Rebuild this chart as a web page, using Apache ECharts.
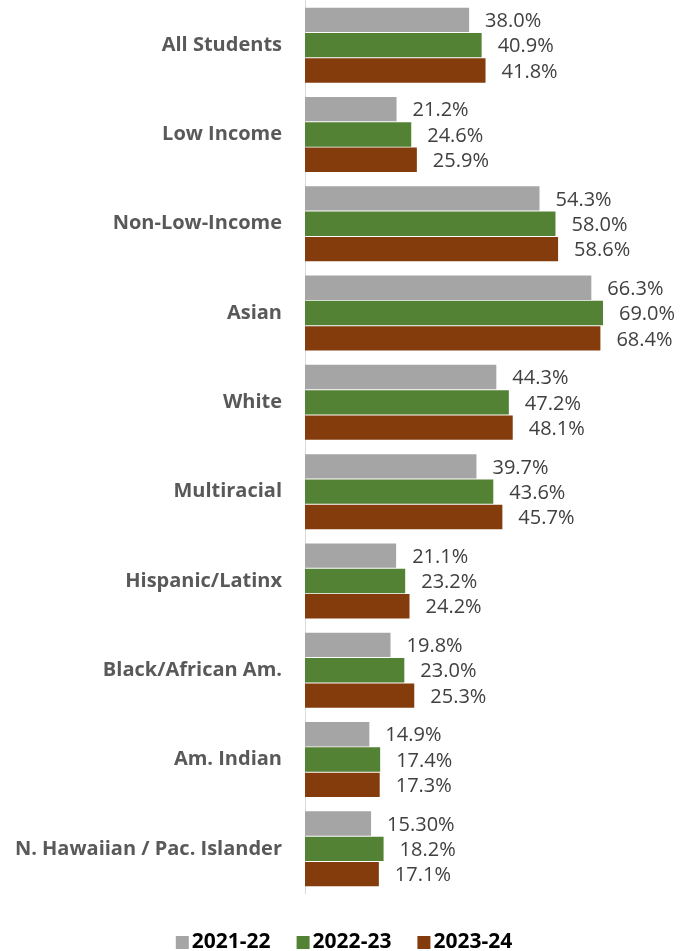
<!DOCTYPE html>
<html>
<head>
<meta charset="utf-8">
<script src="https://cdn.jsdelivr.net/npm/echarts@6/dist/echarts.min.js"></script>
<style>
html,body{margin:0;padding:0;background:#fff;}
#chart{width:688px;height:951px;}
</style>
</head>
<body>
<div id="chart"></div>
<script>
const categories = ['All Students','Low Income','Non-Low-Income','Asian','White','Multiracial','Hispanic/Latinx','Black/African Am.','Am. Indian','N. Hawaiian / Pac. Islander'];
const seriesNames = ['2021-22','2022-23','2023-24'];
const v2122 = ['38.0','21.2','54.3','66.3','44.3','39.7','21.1','19.8','14.9','15.30'];
const v2223 = ['40.9','24.6','58.0','69.0','47.2','43.6','23.2','23.0','17.4','18.2'];
const v2324 = ['41.8','25.9','58.6','68.4','48.1','45.7','24.2','25.3','17.3','17.1'];
const colors = ['#A5A5A5','#548235','#843C0C'];

const raw = [v2122, v2223, v2324];
const chart = echarts.init(document.getElementById('chart'));
chart.setOption({
  animation: false,
  grid: {left: 305, right: 37.5, top: 0.5, bottom: 57.5, containLabel: false},
  xAxis: {type: 'value', min: 0, max: 80, show: false},
  yAxis: {
    type: 'category', data: categories, inverse: true,
    axisLine: {show: true, lineStyle: {color: '#D9D9D9', width: 1}},
    axisTick: {show: false},
    axisLabel: {margin: 23, color: '#595959', fontFamily: 'Open Sans', fontWeight: 'bold', fontSize: 20}
  },
  legend: {
    top: 927, left: 'center', icon: 'rect', itemWidth: 13, itemHeight: 13, itemGap: 26,
    textStyle: {color: '#000', fontFamily: 'Open Sans', fontWeight: 'bold', fontSize: 21, padding: [0,0,0,-2]},
    data: seriesNames
  },
  series: raw.map((arr, si) => ({
    name: seriesNames[si], type: 'bar',
    data: arr.map(Number),
    barGap: '4%', barCategoryGap: '16%',
    itemStyle: {color: colors[si]},
    label: {
      show: true, position: 'right', distance: 16, offset: [0, 1.5],
      color: '#404040', fontFamily: 'Open Sans', fontSize: 20,
      formatter: p => raw[si][p.dataIndex] + '%'
    }
  }))
});
</script>
</body>
</html>
